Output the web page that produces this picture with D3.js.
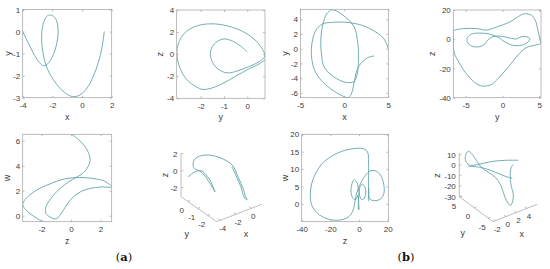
<!DOCTYPE html>
<html>
<head>
<meta charset="utf-8">
<script src="https://cdn.jsdelivr.net/npm/d3@7"></script>
<style>
body{margin:0;background:#fff}
</style>
</head>
<body>
<div id="chart"></div>
<script>
// ---- data ----
// (a) x-y projection
const a_xy = [[-4,0],[-3.6,-0.55],[-3.2,-1.08],[-2.85,-1.42],[-2.6,-1.55],[-2.3,-1.45],[-2.0,-1.15],[-1.78,-0.75],[-1.63,-0.25],[-1.63,0.25],[-1.78,0.58],[-2.05,0.74],[-2.32,0.72],[-2.55,0.48],[-2.7,0.05],[-2.72,-0.45],[-2.62,-1.0],[-2.45,-1.5],[-2.15,-1.95],[-1.7,-2.4],[-1.2,-2.75],[-0.65,-2.95],[-0.15,-2.88],[0.35,-2.55],[0.75,-2.05],[1.1,-1.4],[1.35,-0.7],[1.5,0]];
// (a) y-z projection
const a_yz = [[0.0,0.2],[-0.3,0.75],[-0.6,1.15],[-1.0,1.38],[-1.35,1.05],[-1.55,0.45],[-1.58,-0.2],[-1.4,-1.05],[-1.1,-1.55],[-0.8,-1.7],[-0.4,-1.5],[0.1,-1.1],[0.5,-0.7],[0.75,-0.2],[0.7,0.25],[0.4,1.15],[-0.1,1.95],[-0.6,2.4],[-1.2,2.7],[-1.8,2.72],[-2.3,2.45],[-2.7,1.9],[-2.95,1.0],[-3.02,0.0],[-2.9,-1.2],[-2.6,-2.3],[-2.2,-2.95],[-1.9,-3.2],[-1.5,-3.05],[-1.0,-2.6],[-0.5,-2.0],[0.1,-1.3],[0.5,-0.9],[0.76,-0.5]];
// (a) z-w projection
const a_zw = [[0.05,6.51],[0.5,6.1],[0.9,5.6],[1.2,5.0],[1.3,4.5],[1.15,3.9],[0.7,3.3],[0.1,2.9],[-0.4,2.5],[-0.95,1.95],[-1.4,1.3],[-1.7,0.7],[-1.7,0.2],[-1.4,-0.12],[-1.0,-0.25],[-0.65,0.2],[-0.3,0.85],[0.15,1.5],[0.7,1.95],[1.3,2.18],[2.0,2.3],[2.76,2.3],[2.3,2.75],[1.8,2.92],[1.0,3.04],[0.2,3.04],[-0.6,2.9],[-1.3,2.6],[-2.1,2.2],[-2.7,1.75],[-3.1,1.3],[-3.27,0.9],[-3.05,0.45],[-2.7,0.1],[-2.3,-0.22],[-1.9,-0.48]];
// (a) x-y-z view, projected (view units)
const a_view = [[7,24],[12,20],[16,18],[21,18],[26,23],[30,29],[32,34],[34,39],[32,35],[28,29],[24,23],[19,18],[14,16],[12,12],[14,6],[19,3],[27,2],[37,4],[46,8],[52,13],[55,19],[58,26],[62,35],[64,42],[66,47],[63,44],[60,34],[56,25],[53,18],[51,14]];

// (b) x-y projection
const b_xy = [[5,0],[4.5,1.35],[3.6,2.25],[2.1,3.15],[0.5,3.55],[-0.6,3.62],[-1.6,3.55],[-2.4,3.4],[-3.1,2.7],[-3.5,1.6],[-3.72,0],[-3.65,-1.6],[-3.35,-2.95],[-2.75,-4.1],[-2.0,-5.0],[-1.1,-5.8],[-0.2,-6.4],[0.45,-6.65],[0.8,-6.2],[1.0,-5.3],[1.2,-4.2],[1.35,-3.3],[1.7,-2.3],[2.3,-1.5],[2.9,-1.1],[3.4,-1.0]];
const b_xy2 = [[-1.49,5.3],[-2.0,4.7],[-2.4,3.4],[-2.6,2.0],[-2.65,0.6],[-2.55,-1.0],[-2.4,-2.1],[-1.9,-3.1],[-1.3,-3.7],[-0.5,-4.3],[0.4,-4.6],[1.1,-4.45],[1.45,-3.6],[1.6,-2.0],[1.6,0],[1.5,1.2],[1.2,2.8],[0.6,3.8],[-0.2,4.6],[-0.9,5.15],[-1.49,5.3]];
// (b) y-z projection
const b_yz = [[-6.68,6.1],[-5.3,7.3],[-3.5,7.3],[-2.2,6.2],[-0.8,8.4],[1.0,11.8],[2.0,15],[2.8,17.2],[3.5,17.3],[4.1,15.8],[4.6,11],[4.85,5],[5.1,0],[5.15,-2.9],[4.4,-4.1],[3.3,-5.6],[2.3,-9.7],[1.0,-17.7],[-0.8,-28],[-1.5,-31],[-2.2,-32],[-3.0,-31.8],[-3.6,-30.2],[-4.5,-26],[-5.3,-21],[-6.0,-15],[-6.45,-10.9],[-6.68,-5.2],[-6.68,0],[-6.68,6.1]];
const b_yz2 = [[-0.4,0.8],[0.3,-1.8],[1.4,-4.1],[2.6,-4.1],[3.5,-1.8],[3.7,0.5],[3.2,1.8],[2.5,1.6],[1.9,0.2],[1.2,0.6],[0.3,1.6],[-0.5,2.2],[-1.5,1.4],[-2.0,-0.7],[-2.6,-4.1],[-3.5,-5.3],[-4.4,-4.1],[-4.85,-0.7],[-4.65,1.8],[-4.2,3.6],[-3.1,4.2],[-1.8,3.6],[-1.0,2.2],[-0.4,0.8]];
// (b) z-w projection
const b_zw = [[6.5,0.8],[6.6,4],[6.7,8],[6.6,12],[6.2,14.6],[4.5,15.6],[1.5,16],[-3,15.9],[-9,15.5],[-15,14.6],[-21,13.2],[-26,11.5],[-30,9],[-32.8,6.2],[-34,3],[-33.3,0],[-31,-1.8],[-27.5,-3.2],[-22,-4.3],[-16.4,-4.7],[-10.6,-4.4],[-7,-3.6],[-4.5,-2.2],[-3.2,-0.2],[-2.2,2.2],[-0.8,4.2],[1,5.8],[3,7.4],[5,8.5],[7.5,9.4],[10.5,9.6],[13.5,9],[16,7.4],[17.4,5.2],[17.3,3],[15.5,1.6],[12.5,1],[9.5,1],[7.5,1.4],[6.8,2.6],[6.9,4.5]];
const b_zw2 = [[-0.6,-1.7],[-0.5,0.5],[-0.8,2.5],[-2.2,1.3],[-4.2,1.6],[-5.6,3.3],[-5.2,5.4],[-3.6,6.9],[-1.8,6.4],[-0.5,4.6],[0.4,2.5],[1.6,1.3],[3.2,1.4],[4.6,2.8],[4.3,4.6],[2.6,5.6],[1,5.2],[0,3.2],[-0.3,0.5],[0.1,-1.6]];
// (b) x-y-z view, projected (view units)
const b_view = [[59,7],[46,7],[34,8],[24,10],[11,12],[7,9],[6,3],[9,-2],[13,1],[17,7],[22,14],[29,19],[36,24],[41,31],[44,39],[47,47],[51,52],[53,49],[54,41],[52,33],[51,26],[51,19],[52,14],[54,11]];
const b_view2 = [[9,13],[21,14],[31,17],[41,21],[49,24],[53,25]];

// tick values
const ticks = {
  a1x:[-4,-2,0,2], a1y:[1,0,-1,-2,-3],
  a2x:[-2,-1,0],   a2y:[4,2,0,-2,-4],
  b1x:[-5,0,5],    b1y:[4,2,0,-2,-4,-6],
  b2x:[-5,0,5],    b2y:[20,0,-20,-40],
  a3x:[-2,0,2],    a3y:[0,2,4,6],
  b3x:[-40,-20,0,20], b3y:[0,5,10,15,20],
  a4x:[-4,-2,0], a4y:[-2,-1,0], a4z:[-2,0,2],
  b4x:[-2,0,2,4], b4y:[-5,0,5], b4z:[-30,-20,-10,0,10]
};

const width = 550, height = 269;
const lineColor = "#5a9fa5", boxColor = "#a0a0a0", textColor = "#3c3c3c";
const sans = '"Liberation Sans",Arial,sans-serif';
const fmt = d => String(d);

const svg = d3.select("#chart").append("svg")
  .attr("width", width).attr("height", height)
  .style("font-family", sans);

let clipId = 0;

function label(g, x, y, s, rotate){
  return g.append("text")
    .attr("transform", `translate(${x},${y})` + (rotate ? " rotate(-90)" : ""))
    .attr("text-anchor", "middle").attr("dy", "0.35em")
    .attr("font-size", 9).attr("fill", textColor).text(s);
}

function plot2d(p){
  const x = d3.scaleLinear().domain(p.xd).range([p.l, p.r]);
  const y = d3.scaleLinear().domain(p.yd).range([p.b, p.t]);
  const g = svg.append("g");
  const id = "clip" + (clipId++);
  g.append("clipPath").attr("id", id).append("rect")
    .attr("x", p.l).attr("y", p.t).attr("width", p.r - p.l).attr("height", p.b - p.t);

  const line = d3.line().x(d => x(d[0])).y(d => y(d[1])).curve(d3.curveCatmullRom.alpha(0.5));
  g.append("g").attr("clip-path", `url(#${id})`)
    .selectAll("path").data(p.lines).join("path")
    .attr("d", line).attr("fill", "none")
    .attr("stroke", lineColor).attr("stroke-width", 0.85);

  g.append("rect").attr("x", p.l).attr("y", p.t)
    .attr("width", p.r - p.l).attr("height", p.b - p.t)
    .attr("fill", "none").attr("stroke", boxColor).attr("stroke-width", 0.7);

  const axes = [
    [d3.axisBottom(x).tickValues(p.xt).tickFormat(fmt).tickPadding(5), `translate(0,${p.b})`],
    [d3.axisTop(x).tickValues(p.xt).tickFormat(""), `translate(0,${p.t})`],
    [d3.axisLeft(y).tickValues(p.yt).tickFormat(fmt).tickPadding(2.5), `translate(${p.l},0)`],
    [d3.axisRight(y).tickValues(p.yt).tickFormat(""), `translate(${p.r},0)`]
  ];
  axes.forEach(([ax, tr]) => {
    const a = g.append("g").attr("transform", tr)
      .call(ax.tickSizeInner(-2).tickSizeOuter(0));
    a.select(".domain").remove();
    a.selectAll("line").attr("stroke", boxColor).attr("stroke-width", 0.7);
    a.selectAll("text").attr("font-size", 8).attr("fill", textColor).attr("font-family", sans);
  });

  label(g, (p.l + p.r) / 2, p.b + 19, p.xl, false);
  label(g, p.l - p.yo, (p.t + p.b) / 2, p.yl, true);
}

function plot3d(p){
  const sx = d3.scaleLinear().domain(p.xd).range([0, 1]);
  const sy = d3.scaleLinear().domain(p.yd).range([0, 1]);
  const sz = d3.scaleLinear().domain(p.zd).range([0, 1]);
  const proj = (a, b, c) => [
    p.F[0] + sx(a) * p.ex[0] + sy(b) * p.ey[0],
    p.F[1] + sx(a) * p.ex[1] + sy(b) * p.ey[1] - sz(c) * p.zLen
  ];
  const [x0, x1] = p.xd, [y0, y1] = p.yd, [z0, z1] = p.zd;
  const g = svg.append("g");
  const seg = (A, B) => g.append("line")
    .attr("x1", A[0]).attr("y1", A[1]).attr("x2", B[0]).attr("y2", B[1])
    .attr("stroke", boxColor).attr("stroke-width", 0.7);
  const txt = (P, dx, dy, s, anchor) => g.append("text")
    .attr("x", P[0] + dx).attr("y", P[1] + dy).attr("dy", "0.35em")
    .attr("text-anchor", anchor).attr("font-size", 8).attr("fill", textColor).text(s);

  // the three visible axis lines
  seg(proj(x0, y1, z0), proj(x0, y1, z1));
  seg(proj(x0, y0, z0), proj(x0, y1, z0));
  seg(proj(x0, y0, z0), proj(x1, y0, z0));

  p.xt.forEach(v => {
    const P = proj(v, y0, z0);
    seg(P, [P[0] + p.ey[0] * 0.06, P[1] + p.ey[1] * 0.06]);
    txt(P, 2, 8, fmt(v), "middle");
  });
  p.yt.forEach(v => {
    const P = proj(x0, v, z0);
    seg(P, [P[0] + p.ex[0] * 0.05, P[1] + p.ex[1] * 0.05]);
    txt(P, -6, 9, fmt(v), "middle");
  });
  p.zt.forEach(v => {
    const P = proj(x0, y1, v);
    seg(P, [P[0] + p.ex[0] * 0.05, P[1] + p.ex[1] * 0.05]);
    txt(P, -3.5, 0, fmt(v), "end");
  });

  // trajectory in projected view units
  const vx = d3.scaleLinear().domain([0, 100]).range([p.view[0], p.view[0] + 100]);
  const vy = d3.scaleLinear().domain([0, 100]).range([p.view[1], p.view[1] + 100]);
  const line = d3.line().x(d => vx(d[0])).y(d => vy(d[1])).curve(d3.curveCatmullRom.alpha(0.5));
  g.selectAll("path.traj").data(p.lines).join("path").attr("class", "traj")
    .attr("d", line).attr("fill", "none")
    .attr("stroke", lineColor).attr("stroke-width", 0.85);

  label(g, p.xlPos[0], p.xlPos[1], "x", false);
  label(g, p.ylPos[0], p.ylPos[1], "y", false);
  label(g, p.zlPos[0], p.zlPos[1], "z", true);
}

// ---- top row ----
plot2d({l:22.7, r:111.7, t:9.5, b:97.7, xd:[-4,2], yd:[-3,1], xt:ticks.a1x, yt:ticks.a1y,
        lines:[a_xy], xl:"x", yl:"y", yo:15});
plot2d({l:176.7, r:265, t:10, b:98.3, xd:[-3.03,0.76], yd:[-4,4], xt:ticks.a2x, yt:ticks.a2y,
        lines:[a_yz], xl:"y", yl:"z", yo:16.5});
plot2d({l:300.5, r:388.3, t:9.3, b:97.7, xd:[-4.95,5], yd:[-6.65,5.35], xt:ticks.b1x, yt:ticks.b1y,
        lines:[b_xy, b_xy2], xl:"x", yl:"y", yo:15.5});
plot2d({l:453.3, r:541, t:10, b:97.7, xd:[-6.68,5.23], yd:[-40,20], xt:ticks.b2x, yt:ticks.b2y,
        lines:[b_yz, b_yz2], xl:"y", yl:"z", yo:21.5});

// ---- bottom row ----
plot2d({l:22.7, r:111.7, t:134.3, b:221.7, xd:[-3.27,2.76], yd:[-0.48,6.51], xt:ticks.a3x, yt:ticks.a3y,
        lines:[a_zw], xl:"z", yl:"w", yo:15.5});
plot3d({F:[216.7,221.7], ex:[45,-17.4], ey:[-35.7,-25], zLen:43.7,
        xd:[-4.52,1.36], yd:[-2.9,0.67], zd:[-3,2.15], xt:ticks.a4x, yt:ticks.a4y, zt:ticks.a4z,
        view:[181,153], lines:[a_view],
        xlPos:[246,233.5], ylPos:[186.7,233.5], zlPos:[165,175]});
plot2d({l:301.7, r:388.3, t:134.3, b:221.7, xd:[-40,20.4], yd:[-5.1,20], xt:ticks.b3x, yt:ticks.b3y,
        lines:[b_zw, b_zw2], xl:"z", yl:"w", yo:16.5});
plot3d({F:[493,221.7], ex:[44,-17.4], ey:[-33.7,-25], zLen:43.4,
        xd:[-2.43,5.89], yd:[-6.7,5.2], zd:[-30,11.7], xt:ticks.b4x, yt:ticks.b4y, zt:ticks.b4z,
        view:[459.3,153.3], lines:[b_view, b_view2],
        xlPos:[521.7,234], ylPos:[462.7,233], zlPos:[437,175.5]});

// ---- sub-figure captions ----
[["a", 124], ["b", 406]].forEach(([s, cx]) => {
  const t = svg.append("text").attr("x", cx).attr("y", 261)
    .attr("text-anchor", "middle").attr("font-size", 11.5)
    .attr("fill", "#111")
    .style("font-family", '"DejaVu Serif",serif');
  t.append("tspan").text("(");
  t.append("tspan").attr("font-weight", "bold").text(s);
  t.append("tspan").text(")");
});
</script>
</body>
</html>
